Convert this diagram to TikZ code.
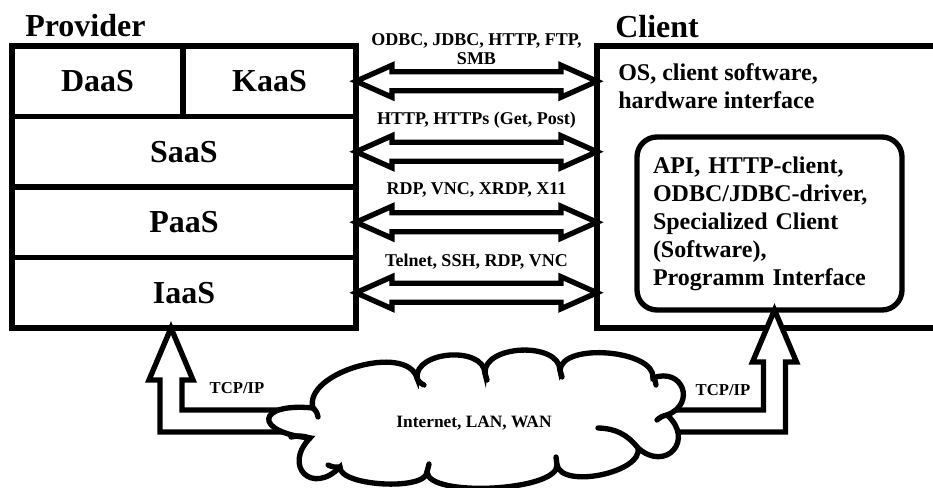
\documentclass[tikz,border=0pt]{standalone}
\usepackage{fontspec}
\setmainfont{Liberation Serif}
\usetikzlibrary{calc,positioning}

\tikzset{
  layer/.style={draw, line width=4pt, inner sep=0pt, outer sep=0pt,
    minimum height=52.875pt, font=\fontsize{24}{28}\selectfont\bfseries},
  head/.style={inner sep=0pt, anchor=west, font=\fontsize{24}{28}\selectfont\bfseries},
  proto/.style={inner sep=0pt, align=center, font=\fontsize{13.5}{14}\selectfont\bfseries},
  tcp/.style={inner sep=0pt, font=\fontsize{12.5}{14}\selectfont\bfseries},
  % hollow double arrow between the provider layers and the client
  link/.style={draw, line width=4pt, fill=white, to path={
    (\tikztostart) -- ($(\tikztostart)+(36,-16)$) -- ($(\tikztostart)+(36,-9.5)$)
    -- ($(\tikztotarget)+(-36,-9.5)$) -- ($(\tikztotarget)+(-36,-16)$) -- (\tikztotarget)
    -- ($(\tikztotarget)+(-36,16)$) -- ($(\tikztotarget)+(-36,9.5)$)
    -- ($(\tikztostart)+(36,9.5)$) -- ($(\tikztostart)+(36,16)$) -- cycle}},
  % hollow L-shaped arrow from the network up to a box
  uplink/.style={draw, line width=4pt, fill=white, to path={
    let \p1=(\tikztostart), \p2=(\tikztotarget), \n1={sign(\x1-\x2)} in
    (\x1,\y1+8.25pt) -- (\x2+\n1*8.25pt,\y1+8.25pt) -- (\x2+\n1*8.25pt,\y2-39pt)
    -- (\x2+\n1*16.5pt,\y2-39pt) -- (\x2,\y2) -- (\x2-\n1*16.5pt,\y2-39pt)
    -- (\x2-\n1*8.25pt,\y2-39pt) -- (\x2-\n1*8.25pt,\y1-8.25pt) -- (\x1,\y1-8.25pt) -- cycle}},
  puffline/.style={line width=4pt, line cap=round}
}

\begin{document}
\begin{tikzpicture}[x=0.75pt,y=-0.75pt]
\useasboundingbox (0,0) rectangle (933,488);

% provider stack
\node[layer, minimum width=128.25pt] (daas) at (97.5,81.25) {DaaS};
\node[layer, minimum width=129.75pt] (kaas) at (269.5,81.25) {KaaS};
\node[layer, minimum width=258pt] (saas) at (184,151.75) {SaaS};
\node[layer, minimum width=258pt] (paas) at (184,222.25) {PaaS};
\node[layer, minimum width=258pt] (iaas) at (184,292.75) {IaaS};
\node[head] (provider) at (25,26) {Provider};

% client side
\node[draw, line width=4pt, inner sep=0pt, outer sep=0pt, minimum width=272.25pt,
  minimum height=211.5pt] (client) at (778.5,187) {};
\node[head] (clientlbl) at (615,27) {Client};
\node[inner sep=0pt, anchor=north west, align=left,
  font=\fontsize{18}{21}\selectfont\bfseries] (os) at (618,63)
  {OS, client software,\\hardware interface};
\node[draw, line width=4pt, rounded corners=15pt, inner sep=0pt, outer sep=0pt,
  minimum width=198.75pt, minimum height=129.75pt, text width=174.75pt, align=left,
  font=\fontsize{18}{21}\selectfont\bfseries] (api) at (769.5,223.5)
  {API, HTTP-client,\\ODBC/JDBC-driver,\\Specialized Client\\(Software),\\Programm Interface};

% protocols
\draw[link] (kaas.east) to (kaas.east -| client.west);
\draw[link] (saas.east) to (saas.east -| client.west);
\draw[link] (paas.east) to (paas.east -| client.west);
\draw[link] (iaas.east) to (iaas.east -| client.west);
\node[proto] (pKaas) at ($(kaas.east)!0.5!(kaas.east -| client.west)+(0,-32)$) {ODBC, JDBC, HTTP, FTP,\\SMB};
\node[proto] (pSaas) at ($(saas.east)!0.5!(saas.east -| client.west)+(0,-32)$) {HTTP, HTTPs (Get, Post)};
\node[proto] (pPaas) at ($(paas.east)!0.5!(paas.east -| client.west)+(0,-32)$) {RDP, VNC, XRDP, X11};
\node[proto] (pIaas) at ($(iaas.east)!0.5!(iaas.east -| client.west)+(0,-31)$) {Telnet, SSH, RDP, VNC};

% network
\coordinate (netL) at (330,421);
\coordinate (netR) at (640,421);
\draw[uplink] (netL) to ($(iaas.south)+(-13,0)$);
\draw[uplink] (netR) to ($(api.south)+(5,0)$);
\node[tcp] (tcpL) at (237,388) {TCP/IP};
\node[tcp] (tcpR) at (723,390) {TCP/IP};

% cloud: puffs between the dents c1..c11
\coordinate (c1) at (313,408);
\coordinate (c2) at (417,378);
\coordinate (c3) at (485,373);
\coordinate (c4) at (560,370);
\coordinate (c5) at (653,378);
\coordinate (c6) at (667,415);
\coordinate (c7) at (638,448);
\coordinate (c8) at (557,465);
\coordinate (c9) at (427,472);
\coordinate (c10) at (340,467);
\coordinate (c11) at (310,438);
\draw[puffline, fill=white] (c1)
  \foreach \a/\b/\k in {c1/c2/0.34, c2/c3/0.4, c3/c4/0.38, c4/c5/0.3, c5/c6/0.8,
    c6/c7/0.85, c7/c8/0.3, c8/c9/0.2, c9/c10/0.22, c10/c11/0.95, c11/c1/1.9}
  { .. controls ($(\a)!\k!90:(\b)$) and ($(\b)!\k!-90:(\a)$) .. (\b) } -- cycle;
\draw[puffline] (c1) to[bend left=20] (318,417);
\draw[puffline] (c2) to[bend right=20] (424,385);
\draw[puffline] (c3) -- (487,380);
\draw[puffline] (c4) -- (562,377);
\draw[puffline] (c5) to[bend left=20] (656,385);
\draw[puffline] (c6) to[bend right=15] (657,420);
\draw[puffline] (c7) to[bend right=25] (598,428);
\draw[puffline] (c8) -- (556,457);
\draw[puffline] (c9) -- (429,464);
\draw[puffline] (c10) to[bend left=15] (328,465);
\draw[puffline] (c11) to[bend right=15] (291,437);
\node[inner sep=0pt, font=\fontsize{13}{15}\selectfont\bfseries] (net) at (474,423) {Internet, LAN, WAN};
\end{tikzpicture}
\end{document}
